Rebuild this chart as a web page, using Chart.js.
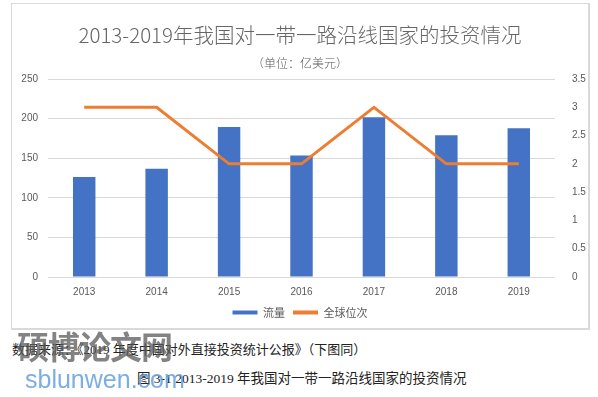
<!DOCTYPE html>
<html>
<head>
<meta charset="utf-8">
<script src="https://cdn.jsdelivr.net/npm/chart.js@4"></script>
<style>
  html, body { margin: 0; padding: 0; background: #fff; }
  body { width: 598px; height: 397px; position: relative; overflow: hidden; }
  #box { position: absolute; left: 11px; top: 3px; width: 576px; height: 324px; border: 1px solid #d9d9d9; border-right-width: 2px; border-bottom-width: 2px; }
  #box canvas { display: block; }
  .note { position: absolute; font-family: "Liberation Serif", "Noto Sans CJK SC", serif; font-size: 13px; color: #222; white-space: nowrap; }
  .wm1 { position: absolute; left: 17px; top: 325px; font-family: "Noto Sans CJK SC", sans-serif; font-weight: bold; font-size: 32px; line-height: 40px; color: rgba(90,90,90,0.75); letter-spacing: -1px; }
  .wm2 { position: absolute; left: 25px; top: 365px; font-family: "Liberation Sans", sans-serif; font-size: 25px; color: rgba(100,160,225,0.85); }
</style>
</head>
<body>
<div id="box"><canvas id="myChart" width="576" height="324"></canvas></div>
<div class="note" style="left:12px; top:339px;">数据来源：《2019 年度中国对外直接投资统计公报》（下图同）</div>
<div class="note" style="left:137px; top:367px; font-size:13.5px;">图 3-1 2013-2019 年我国对一带一路沿线国家的投资情况</div>
<div class="wm1">硕博论文网</div>
<div class="wm2">sblunwen.com</div>
<script>
const years = ['2013', '2014', '2015', '2016', '2017', '2018', '2019'];
const flow = [126.4, 136.6, 189.3, 153.3, 201.7, 178.9, 187.9];
const rank = [3, 3, 2, 2, 3, 2, 2];

const tickFont = { family: '"Liberation Sans", Arial, sans-serif', size: 10 };
const grey = '#595959';

const data = {
    labels: years,
    datasets: [{
        type: 'line',
        label: '全球位次',
        data: rank,
        yAxisID: 'y1',
        borderColor: '#ED7D31',
        backgroundColor: '#ED7D31',
        borderWidth: 3,
        pointRadius: 0,
        tension: 0,
        order: 0
    }, {
        type: 'bar',
        label: '流量',
        data: flow,
        yAxisID: 'y',
        backgroundColor: '#4472C4',
        barPercentage: 0.31,
        categoryPercentage: 1,
        order: 1
    }]
};

const config = {
    data: data,
    options: {
        responsive: false,
        animation: false,
        layout: { padding: { left: 0, right: 0, top: 0, bottom: 0 } },
        plugins: {
            title: {
                display: true,
                text: '2013-2019年我国对一带一路沿线国家的投资情况',
                color: '#666',
                font: { family: '"Noto Sans CJK SC", sans-serif', size: 20.5, weight: 300 },
                padding: { top: 19, bottom: 9 }
            },
            subtitle: {
                display: true,
                text: '（单位：亿美元）',
                color: grey,
                font: { family: '"Noto Sans CJK SC", sans-serif', size: 12, weight: 300 },
                padding: { top: 0, bottom: 8 }
            },
            legend: {
                position: 'bottom',
                reverse: true,
                labels: {
                    color: grey,
                    font: { family: '"Noto Sans CJK SC", sans-serif', size: 11 },
                    boxWidth: 25,
                    boxHeight: 4,
                    padding: 8,
                    generateLabels: (chart) => {
                        const items = Chart.defaults.plugins.legend.labels.generateLabels(chart);
                        items.forEach(it => { it.lineWidth = 0; });
                        return items;
                    }
                }
            },
            tooltip: { enabled: false }
        },
        scales: {
            x: {
                grid: { display: false },
                border: { display: false },
                ticks: { color: grey, font: tickFont, padding: 1 }
            },
            y: {
                position: 'left',
                min: 0,
                max: 250,
                ticks: { stepSize: 50, color: grey, font: tickFont, padding: 10 },
                grid: { color: '#d9d9d9', lineWidth: 1, drawTicks: false },
                border: { display: false },
                afterFit: (s) => { s.width = 36; }
            },
            y1: {
                position: 'right',
                min: 0,
                max: 3.5,
                ticks: {
                    stepSize: 0.5, color: grey, font: tickFont, padding: 9,
                    callback: (v) => String(v)
                },
                grid: { display: false },
                border: { display: false },
                afterFit: (s) => { s.width = 33; }
            }
        }
    }
};

const myChart = new Chart(document.getElementById('myChart'), config);
</script>
</body>
</html>
